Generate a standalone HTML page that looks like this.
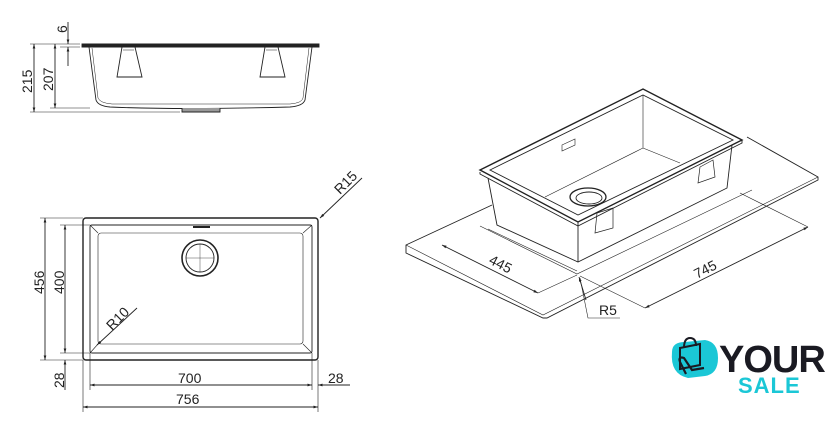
<!DOCTYPE html>
<html><head><meta charset="utf-8"><style>
html,body{margin:0;padding:0;background:#fff}
svg{display:block}
text{font-family:"Liberation Sans",sans-serif;fill:#222}
</style></head><body>
<svg width="840" height="431" viewBox="0 0 840 431" xmlns="http://www.w3.org/2000/svg">
<defs>
<marker id="a" viewBox="0 0 10 10" refX="10" refY="5" markerWidth="7" markerHeight="5" orient="auto-start-reverse"><path d="M0,2 L10,5 L0,8 z" fill="#222"/></marker>
</defs>
<g fill="none" stroke="#222" stroke-width="0.9">
<!-- side view -->
<path d="M82,44 H319 V47 H82 Z" fill="#222"/>
<path d="M89,47 L96,100 Q98,106 110,107 Q180,110 290,107 Q303,106 305,100 L312,47"/>
<path d="M92,48 L98,98 Q100,103 112,104 L290,104 Q302,103 303,98 L309,48" stroke-width="0.5"/>
<path d="M182,108 V112 H220 V108" fill="#999"/>
<path d="M122,47 L135,47 L142,77 L117,77 Z"/>
<path d="M265,47 L278,47 L285,77 L260,77 Z"/>
<path d="M123,50 H134 M266,50 H277" stroke-width="0.5"/>
<!-- side view dims -->
<path d="M30,44 H80 M30,112 H180 M50,108 H90 M60,47 H80" stroke-width="0.6"/>
<line x1="34" y1="44" x2="34" y2="112" marker-start="url(#a)" marker-end="url(#a)"/>
<line x1="55" y1="44" x2="55" y2="108" marker-start="url(#a)" marker-end="url(#a)"/>
<line x1="68" y1="22" x2="68" y2="44" marker-end="url(#a)"/>
<line x1="68" y1="66" x2="68" y2="47" marker-end="url(#a)"/>
<!-- top view -->
<rect x="83" y="218" width="235" height="142" rx="3" stroke-width="1.4"/>
<rect x="90" y="225" width="222" height="128" rx="2"/>
<rect x="98" y="233" width="205" height="111" rx="3" stroke-width="0.6"/>
<path d="M90,225 L98,233 M312,225 L303,233 M90,353 L98,344 M312,353 L303,344" stroke-width="0.6"/>
<path d="M193,227 H210" stroke-width="2"/>
<circle cx="200" cy="258" r="18" stroke-width="1.6"/>
<circle cx="200" cy="258" r="14"/>
<path d="M186,258 H214 M200,244 V272" stroke-width="0.4"/>
<!-- top view dims -->
<path d="M40,218 H83 M60,225 H90 M60,353 H90 M40,360 H83" stroke-width="0.6"/>
<line x1="45" y1="218" x2="45" y2="360" marker-start="url(#a)" marker-end="url(#a)"/>
<line x1="65" y1="225" x2="65" y2="353" marker-start="url(#a)" marker-end="url(#a)"/>
<line x1="65" y1="390" x2="65" y2="360" marker-end="url(#a)"/>
<path d="M83,360 V412 M90,353 V390 M312,353 V390 M318,360 V412" stroke-width="0.6"/>
<line x1="90" y1="385" x2="312" y2="385" marker-start="url(#a)" marker-end="url(#a)"/>
<line x1="350" y1="385" x2="318" y2="385" marker-end="url(#a)"/>
<line x1="83" y1="407" x2="318" y2="407" marker-start="url(#a)" marker-end="url(#a)"/>
<line x1="362" y1="178" x2="320" y2="218" marker-end="url(#a)"/>
<line x1="137" y1="308" x2="97" y2="345" marker-end="url(#a)"/>
<!-- iso counter -->
<path d="M492,205 L406,245 L406,253 L543,318 L547,318 L818,180 L818,177 L747,137"/>
<path d="M406,245 L543,315 L818,177" stroke-width="0.6"/>
<path d="M480,226 L577,274 L752,190 M488,229 L577,271" stroke-width="0.6"/>
<!-- sink -->
<path d="M488,178 L497,225 L578,262 L727,188 L732,145" fill="#fff"/>
<path d="M578,222 L578,262" />
<path d="M480,170 L643,89 L742,140 L578,222 Z" fill="#fff" stroke-width="1.4"/>
<path d="M480,172 L480,174 L578,226 L742,143 L742,140" />
<path d="M490,170 L643,95 L733,140 L578,215 Z"/>
<path d="M643,95 V148 L545,197 M643,148 L680,163" stroke-width="0.6"/>
<path d="M562,145 L575,139 L575,145 L562,151 Z" stroke-width="0.6"/>
<ellipse cx="588" cy="197" rx="18" ry="9" fill="#fff" stroke-width="1.3"/>
<ellipse cx="589" cy="198" rx="13" ry="6"/>
<path d="M597,213 L613,208 L613,228 L595,233 Z" stroke-width="0.7"/>
<path d="M700,167 L713,160 L715,177 L698,183 Z" stroke-width="0.7"/>
<!-- iso dims -->
<line x1="442" y1="245" x2="538" y2="293" marker-start="url(#a)" marker-end="url(#a)"/>
<path d="M538,293 L577,275 M645,308 L580,276 M808,227 L740,193" stroke-width="0.6"/>
<line x1="645" y1="308" x2="808" y2="227" marker-start="url(#a)" marker-end="url(#a)"/>
<path d="M620,318 H588 L580,278" stroke-width="0.6"/>
<line x1="586" y1="300" x2="579" y2="277" marker-end="url(#a)"/>
</g>
<!-- labels -->
<text font-size="14" transform="translate(67,33) rotate(-90)">6</text>
<text font-size="14" transform="translate(32,93) rotate(-90)">215</text>
<text font-size="14" transform="translate(53,91) rotate(-90)">207</text>
<text font-size="14" transform="translate(44,294) rotate(-90)">456</text>
<text font-size="14" transform="translate(64,294) rotate(-90)">400</text>
<text font-size="14" transform="translate(64,388) rotate(-90)">28</text>
<text font-size="14" x="178" y="383">700</text>
<text font-size="14" x="328" y="383">28</text>
<text font-size="14" x="176" y="404">756</text>
<text font-size="14" transform="translate(340,195) rotate(-45)">R15</text>
<text font-size="14" transform="translate(112,331) rotate(-45)">R10</text>
<text font-size="14" transform="translate(488,263) rotate(27)">445</text>
<text font-size="14" transform="translate(697,279) rotate(-27)">745</text>
<text font-size="14" x="599" y="315">R5</text>
<!-- logo -->
<path d="M672,352 Q672,342 685,342 L705,340 Q718,342 718,358 Q718,374 705,376 L688,378 Q670,374 672,352 Z" fill="#1bc7d6"/>
<path d="M680,348 L700,344 L700,365 L680,369 Z M684,348 Q684,338 690,338 Q696,338 696,346" fill="none" stroke="#1a1a22" stroke-width="2"/>
<path d="M686,374 L680,362 Q678,356 684,358 L692,370 L704,368" fill="none" stroke="#1a1a22" stroke-width="2.2"/>
<text x="719" y="372" font-size="38" font-weight="bold" style="fill:#1a1a22;letter-spacing:-1px">YOUR</text>
<text x="738" y="393" font-size="22" font-weight="bold" style="fill:#1bc7d6;letter-spacing:1px">SALE</text>
</svg>
</body></html>
